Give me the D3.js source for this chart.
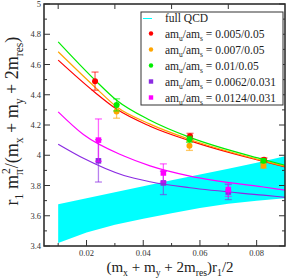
<!DOCTYPE html>
<html>
<head>
<meta charset="utf-8">
<script src="https://cdn.jsdelivr.net/npm/d3@7"></script>
<style>
  body { margin: 0; background: #fff; }
  svg { display: block; font-family: "Liberation Serif", "DejaVu Serif", serif; }
</style>
</head>
<body>
<svg id="viz" width="287" height="279"></svg>
<script>
const svg = d3.select("#viz");
const width = +svg.attr("width");
const height = +svg.attr("height");
const margin = { top: 4, right: 2, bottom: 33, left: 44 };

// band (full QCD)
const bandX = [0.01, 0.02, 0.03, 0.04, 0.05, 0.06, 0.07, 0.08, 0.09];
const bandHigh = [3.676, 3.716, 3.755, 3.795, 3.834, 3.872, 3.91, 3.95, 3.994];
const bandLow = [3.42, 3.49, 3.54, 3.58, 3.617, 3.652, 3.68, 3.70, 3.716];

// fit curves
const fitRed = [[0.01, 4.629], [0.023, 4.415], [0.0306, 4.305], [0.0424, 4.192], [0.0565, 4.095], [0.0824, 3.959], [0.09, 3.923]];
const fitOrange = [[0.01, 4.684], [0.023, 4.45], [0.0306, 4.32], [0.0424, 4.206], [0.0565, 4.104], [0.0824, 3.963], [0.09, 3.928]];
const fitGreen = [[0.01, 4.75], [0.023, 4.497], [0.0306, 4.364], [0.0424, 4.232], [0.0565, 4.118], [0.0824, 3.972], [0.09, 3.934]];
const fitPurple = [[0.01, 4.073], [0.0191, 3.978], [0.0332, 3.866], [0.0424, 3.825], [0.0565, 3.785], [0.0824, 3.736], [0.09, 3.722]];
const fitMagenta = [[0.01, 4.287], [0.0189, 4.137], [0.0332, 3.995], [0.0424, 3.93], [0.0565, 3.862], [0.0824, 3.79], [0.09, 3.769]];

// data points [x, y, err]
const ptsRed = [[0.023, 4.49, 0.06], [0.0565, 4.125, 0.02], [0.0826, 3.97, 0.012]];
const ptsOrange = [[0.0306, 4.29, 0.045], [0.0563, 4.062, 0.03], [0.0824, 3.93, 0.015]];
const ptsGreen = [[0.0306, 4.333, 0.04], [0.0563, 4.105, 0.02], [0.0824, 3.963, 0.012]];
const ptsPurple = [[0.0242, 3.963, 0.14], [0.0471, 3.817, 0.077], [0.070, 3.757, 0.05]];
const ptsMagenta = [[0.0242, 4.10, 0.14], [0.0471, 3.883, 0.06], [0.070, 3.773, 0.045]];

const seriesNames = ["0.005/0.05", "0.007/0.05", "0.01/0.05", "0.0062/0.031", "0.0124/0.031"];
const seriesColors = ["#ff0000", "#ffa500", "#00ee00", "#8b2be2", "#ff00ff"];
const seriesShapes = ["circle", "circle", "circle", "square", "square"];
const seriesFits = [fitRed, fitOrange, fitGreen, fitPurple, fitMagenta];
const seriesPts = [ptsRed, ptsOrange, ptsGreen, ptsPurple, ptsMagenta];

const xTicks = [0.02, 0.04, 0.06, 0.08];
const xMinor = [0.01, 0.03, 0.05, 0.07];
const yTicks = [3.4, 3.6, 3.8, 4, 4.2, 4.4, 4.6, 4.8, 5];
const yMinor = [3.5, 3.7, 3.9, 4.1, 4.3, 4.5, 4.7, 4.9];

const x = d3.scaleLinear().domain([0.005, 0.09]).range([margin.left, width - margin.right]);
const y = d3.scaleLinear().domain([3.4, 5]).range([height - margin.bottom, margin.top]);

// cyan band
const bandData = bandX.map((d, i) => ({ x: d, lo: bandLow[i], hi: bandHigh[i] }));
svg.append("path")
  .datum(bandData)
  .attr("fill", "#00ffff")
  .attr("d", d3.area().x(d => x(d.x)).y0(d => y(d.lo)).y1(d => y(d.hi)));

// fit curves
const line = d3.line().x(d => x(d[0])).y(d => y(d[1])).curve(d3.curveMonotoneX);
seriesFits.forEach((f, i) => {
  svg.append("path")
    .datum(f)
    .attr("fill", "none")
    .attr("stroke", seriesColors[i])
    .attr("stroke-width", 1.2)
    .attr("d", line);
});

// error bars + symbols
function drawSymbol(g, shape, cx, cy, color, s) {
  if (shape === "circle") {
    g.append("circle").attr("cx", cx).attr("cy", cy).attr("r", s).attr("fill", color);
  } else {
    g.append("rect").attr("x", cx - s).attr("y", cy - s).attr("width", 2 * s).attr("height", 2 * s).attr("fill", color);
  }
}

seriesPts.forEach((pts, i) => {
  const g = svg.append("g");
  const c = seriesColors[i];
  pts.forEach(([px, py, e]) => {
    const cx = x(px);
    g.append("line").attr("x1", cx).attr("x2", cx).attr("y1", y(py - e)).attr("y2", y(py + e))
      .attr("stroke", c).attr("stroke-opacity", 0.6).attr("stroke-width", 1.3);
    [py - e, py + e].forEach(v => {
      g.append("line").attr("x1", cx - 3.5).attr("x2", cx + 3.5).attr("y1", y(v)).attr("y2", y(v))
        .attr("stroke", c).attr("stroke-opacity", 0.6).attr("stroke-width", 1.3);
    });
    drawSymbol(g, seriesShapes[i], cx, y(py), c, seriesShapes[i] === "circle" ? 3 : 2.8);
  });
});

// frame + ticks (inward, like xmgrace)
const x0 = margin.left, x1 = width - margin.right, y0 = height - margin.bottom, y1 = margin.top;
svg.append("rect").attr("x", x0).attr("y", y1).attr("width", x1 - x0).attr("height", y0 - y1)
  .attr("fill", "none").attr("stroke", "#222").attr("stroke-width", 1.5);

const ticks = svg.append("g").attr("stroke", "#333").attr("stroke-width", 1);
xTicks.forEach(v => {
  ticks.append("line").attr("x1", x(v)).attr("x2", x(v)).attr("y1", y0).attr("y2", y0 - 6);
});
xMinor.forEach(v => {
  ticks.append("line").attr("x1", x(v)).attr("x2", x(v)).attr("y1", y0).attr("y2", y0 - 3);
  ticks.append("line").attr("x1", x(v)).attr("x2", x(v)).attr("y1", y1).attr("y2", y1 + 5);
});
yTicks.forEach(v => {
  ticks.append("line").attr("x1", x0).attr("x2", x0 + 6).attr("y1", y(v)).attr("y2", y(v));
  ticks.append("line").attr("x1", x1).attr("x2", x1 - 6).attr("y1", y(v)).attr("y2", y(v));
});
yMinor.forEach(v => {
  ticks.append("line").attr("x1", x0).attr("x2", x0 + 3).attr("y1", y(v)).attr("y2", y(v));
  ticks.append("line").attr("x1", x1).attr("x2", x1 - 3).attr("y1", y(v)).attr("y2", y(v));
});

svg.append("g").selectAll("text").data(xTicks).join("text")
  .attr("x", d => x(d)).attr("y", y0 + 9.5)
  .attr("text-anchor", "middle").attr("font-size", "8.5px").attr("fill", "#333")
  .text(d => d3.format(".2f")(d));
svg.append("g").selectAll("text").data(yTicks).join("text")
  .attr("x", x0 - 3).attr("y", d => y(d) + 3)
  .attr("text-anchor", "end").attr("font-size", "8.5px").attr("fill", "#333")
  .text(d => d3.format("~g")(d));

// rich text helper: parts are [text, "sub"|"sup"|null, dx]
function richText(sel, parts, size) {
  let off = 0;
  parts.forEach(([t, k, dx]) => {
    const target = k === "sub" ? size * 0.3 : k === "sup" ? -size * 0.42 : 0;
    sel.append("tspan")
      .attr("dy", target - off)
      .attr("dx", dx || 0)
      .attr("font-size", k ? size * 0.65 : size)
      .text(t);
    off = target;
  });
}

// axis labels
const yl = svg.append("text")
  .attr("transform", "translate(18,121) rotate(-90)")
  .attr("text-anchor", "middle").attr("fill", "#222");
richText(yl, [["r"], ["1", "sub"], [" m"], ["π", "sub"], ["2", "sup", -5], ["/(m"], ["x", "sub"], [" + m"], ["y", "sub"], [" + 2m"], ["res", "sub"], [")"]], 18);

const xl = svg.append("text")
  .attr("x", 170).attr("y", 271.5)
  .attr("text-anchor", "middle").attr("fill", "#222");
richText(xl, [["(m"], ["x", "sub"], [" + m"], ["y", "sub"], [" + 2m"], ["res", "sub"], [")r"], ["1", "sub"], ["/2"]], 15);

// legend
const legend = svg.append("g");
legend.append("rect").attr("x", 141).attr("y", 12).attr("width", 142).attr("height", 93)
  .attr("fill", "#fff").attr("stroke", "#333").attr("stroke-width", 1);
legend.append("line").attr("x1", 143).attr("x2", 152).attr("y1", 18.5).attr("y2", 18.5)
  .attr("stroke", "#00ffff").attr("stroke-width", 1);
legend.append("text").attr("x", 165).attr("y", 22).attr("font-size", "11.5px").attr("fill", "#222").text("full QCD");
seriesNames.forEach((name, i) => {
  const ly = 33.5 + i * 16;
  drawSymbol(legend, seriesShapes[i], 151, ly, seriesColors[i], 2.2);
  const t = legend.append("text").attr("x", 165).attr("y", ly + 4).attr("fill", "#222");
  richText(t, [["am"], ["u", "sub"], ["/am"], ["s", "sub"], [" = " + name]], 11.5);
});
</script>
</body>
</html>
